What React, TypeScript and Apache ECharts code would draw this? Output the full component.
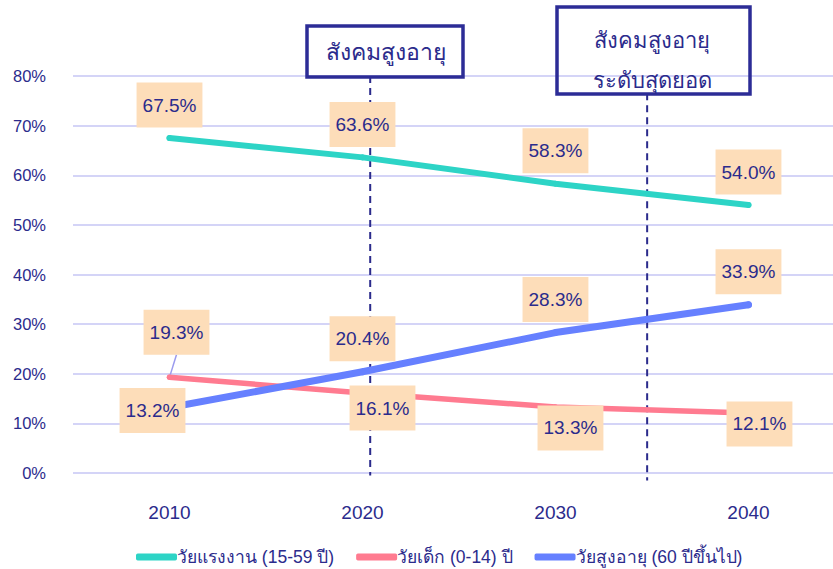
import React, { useEffect, useRef } from "react";
import * as echarts from "echarts";

const years = [2010, 2020, 2030, 2040];
const workingAge = [67.5, 63.6, 58.3, 54.0];
const children = [19.3, 16.1, 13.3, 12.1];
const elderly = [13.2, 20.4, 28.3, 33.9];
const yTicks = [0, 10, 20, 30, 40, 50, 60, 70, 80];
const xRange = [2005, 2044.38];
const seriesNames = ["วัยแรงงาน (15-59 ปี)", "วัยเด็ก (0-14) ปี", "วัยสูงอายุ (60 ปีขึ้นไป)"];
// reference lines: [year position, top value, bottom value]
const markerLines = [
  [2020.4, 80, -0.5],
  [2034.75, 76.5, -1.5],
];

// label offsets (styling)
const workingOffsets = [[0, -33], [0, -33], [0, -33], [0, -33]];
const childrenOffsets = [[7, -45], [20, 15], [15, 21], [11, 11]];
const elderlyOffsets = [[-17, 3], [0, -33], [0, -33], [0, -33]];

const NAVY = "#2B2B8C";
const BORDER = "#2C2C96";
const PEACH = "#FDDDB9";
const TEAL = "#2DD4C6";
const PINK = "#FF7B90";
const BLUE = "#6680FF";
const FONT = 'Arial, "Liberation Sans", "Noto Sans", sans-serif';

function buildData(values: number[], offsets: number[][], leaderIndex = -1) {
  return values.map((v, i) => {
    const item: any = { value: [years[i], v], label: { offset: offsets[i] } };
    if (i === leaderIndex) {
      item.labelLine = { show: true, lineStyle: { color: "#9A9AEE", width: 1.5 } };
    }
    return item;
  });
}

export default function App() {
  const ref = useRef<HTMLDivElement>(null);
  useEffect(() => {
    if (!ref.current) return;
    const chart = echarts.init(ref.current, null, { renderer: "svg" });
    const labelStyle = {
      show: true,
      position: "inside",
      formatter: (p: any) => Number(p.value[1]).toFixed(1) + "%",
      backgroundColor: PEACH,
      padding: [13, 6],
      color: NAVY,
      fontSize: 19,
      fontFamily: FONT,
    };
    const lineSeries = (name: string, color: string, width: number, data: any[]) => ({
      name,
      type: "line",
      data,
      z: 3,
      symbol: "circle",
      symbolSize: width,
      itemStyle: { color, borderWidth: 0 },
      lineStyle: { color, width, cap: "round" },
      label: labelStyle,
      emphasis: { disabled: true },
    });
    const boxes = [
      {
        type: "rect",
        shape: { x: 307, y: 26, width: 156, height: 51 },
        style: { fill: "none", stroke: BORDER, lineWidth: 3.5 },
        z: 10,
      },
      {
        type: "text",
        x: 386,
        y: 52,
        style: {
          text: "สังคมสูงอายุ",
          fill: NAVY,
          fontSize: 23,
          fontFamily: FONT,
          align: "center",
          verticalAlign: "middle",
        },
        z: 10,
      },
      {
        type: "rect",
        shape: { x: 557, y: 7, width: 193, height: 87 },
        style: { fill: "none", stroke: BORDER, lineWidth: 3.5 },
        z: 10,
      },
      {
        type: "text",
        x: 652,
        y: 60,
        style: {
          text: "สังคมสูงอายุ\nระดับสุดยอด",
          fill: NAVY,
          fontSize: 22,
          lineHeight: 40,
          fontFamily: FONT,
          align: "center",
          verticalAlign: "middle",
        },
        z: 10,
      },
    ];
    chart.setOption({
      animation: false,
      textStyle: { fontFamily: FONT },
      grid: { left: 73, top: 76, right: 0, height: 397, containLabel: false },
      xAxis: {
        type: "value",
        min: xRange[0],
        max: xRange[1],
        axisLine: { show: false },
        axisTick: { show: false },
        splitLine: { show: false },
        axisLabel: {
          color: NAVY,
          fontSize: 19,
          margin: 30,
          fontFamily: FONT,
          customValues: years,
          formatter: (v: number) => String(v),
        },
      },
      yAxis: {
        type: "value",
        min: yTicks[0],
        max: yTicks[yTicks.length - 1],
        interval: 10,
        axisLine: { show: false },
        axisTick: { show: false },
        splitLine: { lineStyle: { color: "#D4D4F7", width: 2 } },
        axisLabel: { color: NAVY, fontSize: 16.5, margin: 27, formatter: "{value}%", fontFamily: FONT },
      },
      legend: {
        data: seriesNames,
        left: 131,
        top: 543,
        icon: "roundRect",
        itemWidth: 41,
        itemHeight: 7,
        itemGap: 22,
        textStyle: { color: NAVY, fontSize: 17.5, fontFamily: FONT, padding: [0, 0, 0, -5] },
      },
      series: [
        lineSeries(seriesNames[0], TEAL, 6, buildData(workingAge, workingOffsets)),
        lineSeries(seriesNames[1], PINK, 5.5, buildData(children, childrenOffsets, 0)),
        lineSeries(seriesNames[2], BLUE, 7, buildData(elderly, elderlyOffsets)),
      ],
      graphic: boxes,
    });
    const dashed = markerLines.map(([yr, top, bottom]) => {
      const x = chart.convertToPixel({ xAxisIndex: 0 }, yr) as number;
      const y1 = chart.convertToPixel({ yAxisIndex: 0 }, top) as number;
      const y2 = chart.convertToPixel({ yAxisIndex: 0 }, bottom) as number;
      return {
        type: "line",
        shape: { x1: x, y1, x2: x, y2 },
        style: { stroke: NAVY, lineWidth: 2, lineDash: [7, 5] },
        z: 1,
        silent: true,
      };
    });
    chart.setOption({ graphic: [...boxes, ...dashed] });
    return () => chart.dispose();
  }, []);
  return <div ref={ref} style={{ width: 833, height: 569, position: "absolute", left: 0, top: 0 }} />;
}
